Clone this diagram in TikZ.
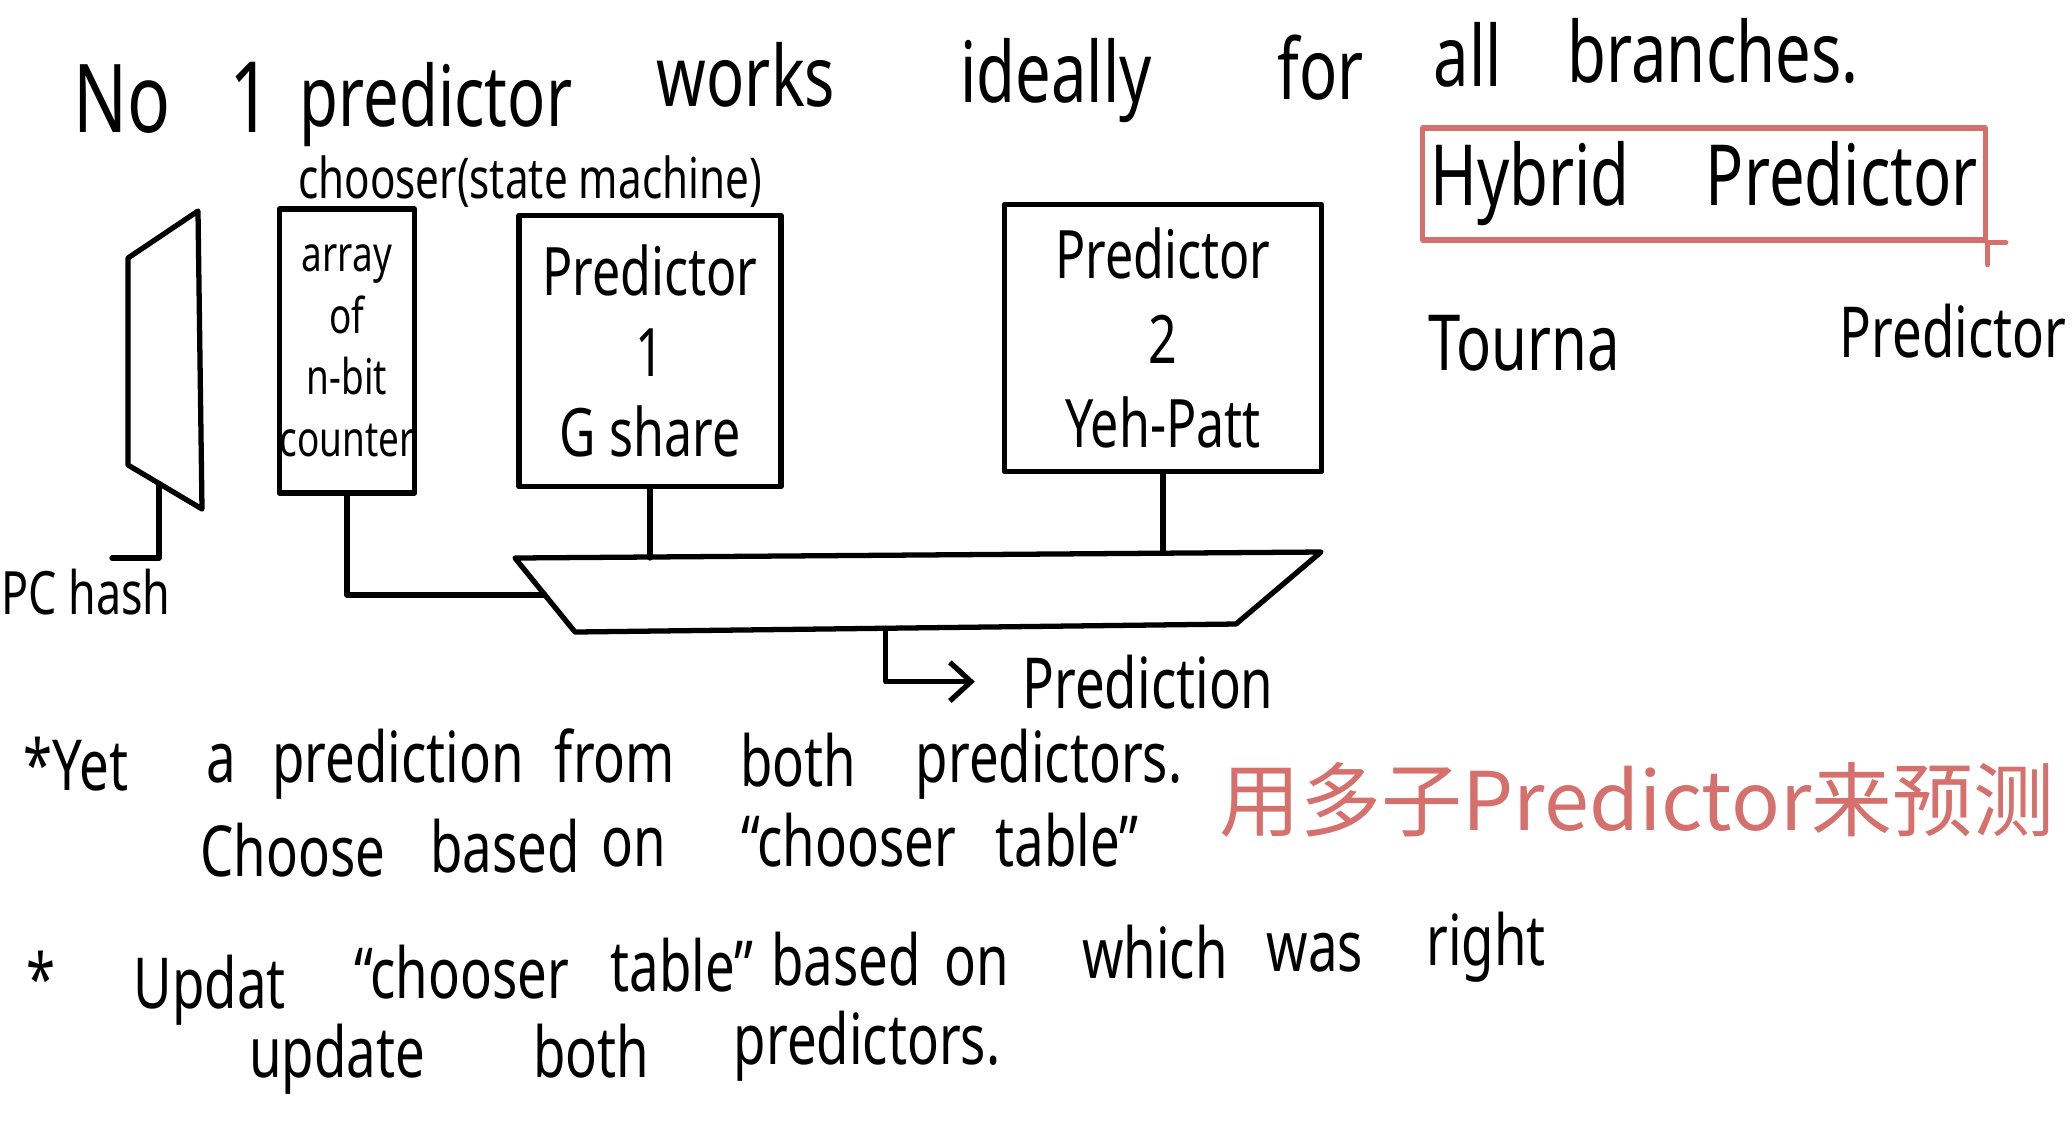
\documentclass[tikz,border=0pt]{standalone}
\usepackage{graphicx}
\usepackage{fontspec}
\setmainfont{Noto Sans}
\newfontfamily\cjkfont{Noto Sans CJK SC}
\usetikzlibrary{arrows.meta,calc}
\definecolor{penred}{RGB}{214,112,108}
\newcommand{\hw}[1]{\scalebox{0.75}[1]{#1}}

\begin{document}
\begin{tikzpicture}[x=0.01cm, y=-0.01cm, line width=1.5pt, line cap=round, line join=round,
		word/.style={anchor=base, inner sep=0pt, font=\fontsize{20}{24}\selectfont},
		head/.style={word, font=\fontsize{24}{28}\selectfont},
		unit/.style={draw, inner sep=0pt, align=center, font=\fontsize{19}{23}\selectfont}]
	\useasboundingbox (0,0) rectangle (2072,1126);
	% title line
	\node[head, font=\fontsize{27}{30}\selectfont] (t1) at (122,132) {\hw{No}};
	\node[head, font=\fontsize{28}{30}\selectfont] (t2) at (251,132) {\hw{1}};
	\node[head] (t3) at (436,126) {\hw{predictor}};
	\node[head] (t4) at (746,106) {\hw{works}};
	\node[head] (t5) at (1056,102) {\hw{ideally}};
	\node[head] (t6) at (1321,99) {\hw{for}};
	\node[head] (t7) at (1468,86) {\hw{all}};
	\node[head] (t8) at (1713,82) {\hw{branches.}};
	% index table and PC hash
	\coordinate (ilt) at (128,258);
	\coordinate (irt) at (198,211);
	\coordinate (irb) at (202,509);
	\coordinate (ilb) at (128,465);
	\draw (ilt) -- (irt) -- (irb) -- (ilb) -- cycle;
	\coordinate (hin) at ($(ilb)!0.42!(irb)$);
	\coordinate (pcend) at (112,558);
	\draw (hin) |- (pcend);
	\node[word, font=\fontsize{17}{20}\selectfont] (pc) at (86,614) {\hw{PC hash}};
	% chooser and the two predictors
	\node[word, font=\fontsize{16}{19}\selectfont] (chs) at (530,198) {\hw{chooser(state machine)}};
	\node[unit, minimum width=1.34cm, minimum height=2.84cm, font=\fontsize{14}{17.5}\selectfont] (arr) at (347,351)
		{\hw{array}\\\hw{of}\\\hw{n-bit}\\\hw{counter}};
	\node[unit, minimum width=2.62cm, minimum height=2.71cm] (p1) at (650,351)
		{\hw{Predictor}\\\hw{1}\\\hw{G share}};
	\node[unit, minimum width=3.17cm, minimum height=2.67cm, font=\fontsize{19}{24}\selectfont] (p2) at (1163,338)
		{\hw{Predictor}\\\hw{2}\\\hw{Yeh-Patt}};
	% selector
	\coordinate (mtl) at (515,558);
	\coordinate (mtr) at (1321,552);
	\coordinate (mbr) at (1236,624);
	\coordinate (mbl) at (575,632);
	\draw (mtl) -- (mtr) -- (mbr) -- (mbl) -- cycle;
	\draw (arr.south) |- ($(mtl)!0.5!(mbl)$);
	\draw (p1.south) -- (p1.south |- mtl);
	\draw (p2.south) -- (p2.south |- mtr);
	\node[word] (pred) at (1148,708) {\hw{Prediction}};
	\draw[-{Straight Barb[length=6pt,width=11pt]}] ($(mbl)!0.47!(mbr)$) |- ([xshift=-0.45cm]pred.west);
	% hybrid predictor note
	\node[draw=penred, minimum width=5.62cm, minimum height=1.12cm, inner sep=0pt, font=\fontsize{24}{28}\selectfont] (hyb) at (1704,184)
		{\hw{Hybrid\hspace{1.2em}Predictor}};
	\draw[penred] (hyb.south east) -- ++(0,22);
	\draw[penred] (hyb.south east) -- ++(18,0);
	\node[word, font=\fontsize{22}{26}\selectfont] (tour) at (1524,370) {\hw{Tourna}};
	\node[word] (tpred) at (1953,357) {\hw{Predictor}};
	% notes
	\node[word] (a1) at (76,790) {\hw{*Yet}};
	\node[word] (a2) at (221,782) {\hw{a}};
	\node[word] (a3) at (398,782) {\hw{prediction}};
	\node[word] (a4) at (615,782) {\hw{from}};
	\node[word] (a5) at (798,786) {\hw{both}};
	\node[word] (a6) at (1049,782) {\hw{predictors.}};
	\node[word] (b1) at (293,876) {\hw{Choose}};
	\node[word] (b2) at (505,872) {\hw{based}};
	\node[word] (b3) at (634,866) {\hw{on}};
	\node[word] (b4) at (849,866) {\hw{“chooser}};
	\node[word] (b5) at (1067,866) {\hw{table”}};
	\node[word, text=penred, font=\cjkfont\fontsize{23}{27}\selectfont] (cn) at (1637,830) {用多子Predictor来预测};
	\node[word] (c1) at (41,1004) {\hw{*}};
	\node[word] (c2) at (210,1008) {\hw{Updat}};
	\node[word] (c3) at (462,998) {\hw{“chooser}};
	\node[word] (c4) at (682,991) {\hw{table”}};
	\node[word] (c5) at (846,985) {\hw{based}};
	\node[word] (c6) at (977,985) {\hw{on}};
	\node[word] (c7) at (1155,978) {\hw{which}};
	\node[word] (c8) at (1315,971) {\hw{was}};
	\node[word] (c9) at (1486,965) {\hw{right}};
	\node[word] (d1) at (337,1077) {\hw{update}};
	\node[word] (d2) at (591,1077) {\hw{both}};
	\node[word] (d3) at (867,1064) {\hw{predictors.}};
\end{tikzpicture}
\end{document}
